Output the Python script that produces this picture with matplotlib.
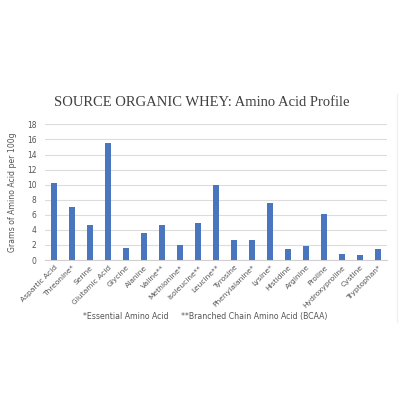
import matplotlib.pyplot as plt
import numpy as np

amino_acids = ['Aspartic Acid', 'Threonine*', 'Serine', 'Glutamic Acid', 'Glycine',
               'Alanine', 'Valine**', 'Methionine*', 'Isoleucine**', 'Leucine**',
               'Tyrosine', 'Phenylalanine*', 'Lysine*', 'Histidine', 'Arginine',
               'Proline', 'Hydroxyproline', 'Cystine', 'Tryptophan*']
grams = [10.2, 7.0, 4.7, 15.5, 1.6, 3.6, 4.6, 2.0, 4.9, 9.9,
         2.6, 2.7, 7.6, 1.4, 1.9, 6.1, 0.8, 0.6, 1.5]
yticks = list(range(0, 20, 2))

fig = plt.figure(figsize=(4.16, 4.16), dpi=100)
ax = fig.add_axes([0.108, 0.375, 0.823, 0.326])

x = np.arange(len(amino_acids))
ax.bar(x, grams, width=0.31, color='#4a76c0', zorder=3)
ax.set_xlim(-0.5, len(amino_acids) - 0.5)
ax.set_ylim(0, 18)
ax.set_yticks(yticks)
ax.set_xticks(x)
ax.set_xticklabels(amino_acids, rotation=45, ha='right', rotation_mode='anchor',
                   fontsize=5.4, color='#555555')
ax.tick_params(axis='y', labelsize=5.5, labelcolor='#555555', length=0, pad=6)
ax.tick_params(axis='x', length=0, pad=3)
ax.grid(axis='y', color='#dcdcdc', linewidth=0.8, zorder=0)
for s in ['top', 'right', 'left']:
    ax.spines[s].set_visible(False)
ax.spines['bottom'].set_color('#d0d0d0')
ax.set_ylabel('Grams of Amino Acid per 100g', fontsize=5.6, color='#555555', labelpad=7)

fig.text(0.485, 0.754, 'SOURCE ORGANIC WHEY: Amino Acid Profile', ha='center', va='center',
         family='Liberation Serif', fontsize=10.5, color='#404040')
fig.text(0.493, 0.24, '*Essential Amino Acid     **Branched Chain Amino Acid (BCAA)',
         ha='center', va='center', fontsize=5.6, color='#555555')

# faint frame edge on the right
fig.add_artist(plt.Line2D([0.955, 0.955], [0.225, 0.775], color='#f0f0f0', linewidth=1))

fig.savefig('out.png', dpi=100, facecolor='white')
